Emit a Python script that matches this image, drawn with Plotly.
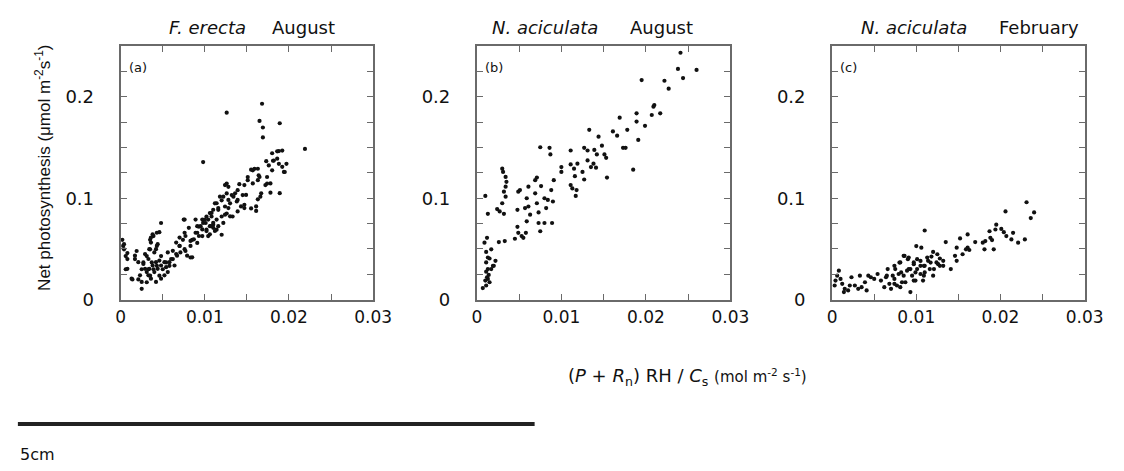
import plotly.graph_objs as go
from plotly.subplots import make_subplots

# (a) F. erecta, August
fe_aug_x = [0.0126, 0.0168, 0.0165, 0.0169, 0.0169, 0.0189, 0.0219, 0.0098, 0.0192, 0.0188,
            0.0186, 0.0181, 0.0188, 0.0192, 0.0197, 0.0194, 0.0180, 0.0174, 0.0172, 0.0178,
            0.0166, 0.0189, 0.0161, 0.0157, 0.0159, 0.0164, 0.0151, 0.0157, 0.0147, 0.0139,
            0.0145, 0.0139, 0.0132, 0.0128, 0.0124, 0.0130, 0.0143, 0.0155, 0.0120, 0.0112,
            0.0116, 0.0120, 0.0126, 0.0133, 0.0139, 0.0120, 0.0108, 0.0104, 0.0101, 0.0097,
            0.0093, 0.0089, 0.0102, 0.0110, 0.0114, 0.0104, 0.0097, 0.0091, 0.0083, 0.0085,
            0.0075, 0.0074, 0.0070, 0.0066, 0.0083, 0.0077, 0.0062, 0.0058, 0.0054, 0.0050,
            0.0048, 0.0046, 0.0043, 0.0039, 0.0035, 0.0031, 0.0025, 0.0021, 0.0014, 0.0017,
            0.0019, 0.0031, 0.0035, 0.0039, 0.0043, 0.0048, 0.0043, 0.0035, 0.0027, 0.0025,
            0.0033, 0.0037, 0.0002, 0.0004, 0.0006, 0.0008, 0.0006, 0.0003, 0.0008, 0.0118,
            0.0114, 0.0110, 0.0102, 0.0098, 0.0091, 0.0106, 0.0114, 0.0122, 0.0093, 0.0087,
            0.0076, 0.0046, 0.0038, 0.0036, 0.0034, 0.0040, 0.0033, 0.0029, 0.0021, 0.0017,
            0.0013, 0.0025, 0.0023, 0.0029, 0.0033, 0.0036, 0.0040, 0.0044, 0.0048, 0.0052,
            0.0056, 0.0060, 0.0064, 0.0052, 0.0048, 0.0042, 0.0056, 0.0062, 0.0067, 0.0071,
            0.0076, 0.0079, 0.0070, 0.0070, 0.0077, 0.0083, 0.0085, 0.0066, 0.0058, 0.0054,
            0.0046, 0.0042, 0.0038, 0.0034, 0.0031, 0.0027, 0.0042, 0.0044, 0.0036, 0.0004,
            0.0008, 0.0091, 0.0097, 0.0102, 0.0106, 0.0110, 0.0124, 0.0106, 0.0100, 0.0095,
            0.0126, 0.0089, 0.0081, 0.0076, 0.0180, 0.0186, 0.0173, 0.0182, 0.0195, 0.0176,
            0.0163, 0.0155, 0.0165, 0.0163, 0.0151, 0.0174, 0.0178, 0.0167, 0.0163, 0.0161,
            0.0147, 0.0141, 0.0149, 0.0136, 0.0126, 0.0134, 0.0138, 0.0128, 0.0122, 0.0116,
            0.0128, 0.0108, 0.0124, 0.0130, 0.0110, 0.0116, 0.0107, 0.0112, 0.0147]
fe_aug_y = [0.1844, 0.1932, 0.1763, 0.1698, 0.1600, 0.1740, 0.1487, 0.1357, 0.1470, 0.1465,
            0.1390, 0.1370, 0.1340, 0.1310, 0.1340, 0.1260, 0.1276, 0.1210, 0.1130, 0.1146,
            0.1016, 0.1050, 0.0920, 0.1276, 0.1290, 0.1227, 0.1210, 0.1146, 0.1130, 0.1080,
            0.1032, 0.0984, 0.1032, 0.1113, 0.1130, 0.0950, 0.0920, 0.0900, 0.0980, 0.0950,
            0.0886, 0.0820, 0.0850, 0.0820, 0.0870, 0.0640, 0.0820, 0.0790, 0.0756, 0.0790,
            0.0720, 0.0660, 0.0690, 0.0740, 0.0690, 0.0627, 0.0627, 0.0560, 0.0530, 0.0590,
            0.0790, 0.0590, 0.0530, 0.0450, 0.0416, 0.0480, 0.0400, 0.0334, 0.0367, 0.0300,
            0.0430, 0.0237, 0.0334, 0.0300, 0.0237, 0.0172, 0.0107, 0.0200, 0.0200, 0.0400,
            0.0480, 0.0430, 0.0590, 0.0627, 0.0660, 0.0756, 0.0530, 0.0497, 0.0367, 0.0300,
            0.0300, 0.0367, 0.0590, 0.0497, 0.0430, 0.0460, 0.0300, 0.0530, 0.0400, 0.1016,
            0.0951, 0.0887, 0.0820, 0.0757, 0.0725, 0.0725, 0.0790, 0.0757, 0.0628, 0.0595,
            0.0790, 0.0666, 0.0644, 0.0563, 0.0498, 0.0466, 0.0401, 0.0450, 0.0370, 0.0434,
            0.0207, 0.0175, 0.0240, 0.0304, 0.0240, 0.0207, 0.0272, 0.0304, 0.0337, 0.0370,
            0.0272, 0.0401, 0.0337, 0.0240, 0.0207, 0.0175, 0.0466, 0.0482, 0.0434, 0.0466,
            0.0498, 0.0434, 0.0530, 0.0612, 0.0628, 0.0579, 0.0418, 0.0563, 0.0370, 0.0320,
            0.0386, 0.0370, 0.0337, 0.0304, 0.0272, 0.0353, 0.0498, 0.0547, 0.0612, 0.0547,
            0.0304, 0.0660, 0.0693, 0.0676, 0.0644, 0.0709, 0.0919, 0.0854, 0.0790, 0.0725,
            0.1048, 0.0790, 0.0709, 0.0660, 0.1444, 0.1463, 0.1366, 0.1372, 0.1259, 0.1324,
            0.1291, 0.1282, 0.1210, 0.1178, 0.1178, 0.1145, 0.1055, 0.1049, 0.0990, 0.0875,
            0.0903, 0.1139, 0.1033, 0.1049, 0.1145, 0.1016, 0.0968, 0.0984, 0.1016, 0.0903,
            0.0903, 0.0855, 0.0838, 0.0822, 0.0758, 0.0725, 0.0725, 0.0677, 0.0936]

# (b) N. aciculata, August
na_aug_x = [0.0241, 0.0238, 0.0260, 0.0244, 0.0222, 0.0195, 0.0227, 0.0210, 0.0209, 0.0217,
            0.0207, 0.0189, 0.0169, 0.0189, 0.0199, 0.0178, 0.0161, 0.0166, 0.0133, 0.0144,
            0.0191, 0.0173, 0.0176, 0.0185, 0.0148, 0.0127, 0.0131, 0.0139, 0.0111, 0.0142,
            0.0151, 0.0153, 0.0131, 0.0138, 0.0135, 0.0141, 0.0154, 0.0111, 0.0119, 0.0115,
            0.0116, 0.0125, 0.0127, 0.0100, 0.0100, 0.0111, 0.0113, 0.0118, 0.0117, 0.0086,
            0.0075, 0.0087, 0.0071, 0.0069, 0.0061, 0.0076, 0.0091, 0.0088, 0.0059, 0.0049,
            0.0051, 0.0069, 0.0061, 0.0071, 0.0080, 0.0084, 0.0082, 0.0090, 0.0057, 0.0048,
            0.0063, 0.0073, 0.0059, 0.0073, 0.0075, 0.0080, 0.0089, 0.0048, 0.0049, 0.0053,
            0.0055, 0.0058, 0.0045, 0.0030, 0.0031, 0.0034, 0.0035, 0.0034, 0.0032, 0.0034,
            0.0030, 0.0032, 0.0024, 0.0027, 0.0010, 0.0013, 0.0026, 0.0033, 0.0012, 0.0009,
            0.0017, 0.0011, 0.0013, 0.0015, 0.0022, 0.0011, 0.0019, 0.0013, 0.0011, 0.0014,
            0.0012, 0.0013, 0.0010, 0.0015, 0.0011, 0.0007, 0.0017, 0.0020]
na_aug_y = [0.2435, 0.2276, 0.2266, 0.2185, 0.2159, 0.2166, 0.2081, 0.1919, 0.1903, 0.1838,
            0.1821, 0.1838, 0.1795, 0.1756, 0.1714, 0.1675, 0.1659, 0.1617, 0.1675, 0.1607,
            0.1575, 0.1497, 0.1497, 0.1282, 0.1519, 0.1497, 0.1471, 0.1477, 0.1471, 0.1432,
            0.1432, 0.1399, 0.1373, 0.1341, 0.1308, 0.1302, 0.1204, 0.1334, 0.1341, 0.1292,
            0.1218, 0.1260, 0.1185, 0.1308, 0.1260, 0.1130, 0.1097, 0.1081, 0.1023, 0.1497,
            0.1503, 0.1432, 0.1204, 0.1178, 0.1114, 0.1120, 0.1178, 0.1081, 0.1000, 0.1065,
            0.1081, 0.1049, 0.0919, 0.0951, 0.1000, 0.0984, 0.0903, 0.0968, 0.0903, 0.0886,
            0.0838, 0.0860, 0.0773, 0.0756, 0.0675, 0.0756, 0.0756, 0.0718, 0.0659, 0.0627,
            0.0610, 0.0659, 0.0601, 0.1292, 0.1260, 0.1211, 0.1162, 0.1114, 0.1065, 0.1016,
            0.0951, 0.0847, 0.0893, 0.0870, 0.1023, 0.0847, 0.0568, 0.0578, 0.0610, 0.0562,
            0.0497, 0.0471, 0.0416, 0.0406, 0.0383, 0.0367, 0.0334, 0.0302, 0.0276, 0.0244,
            0.0221, 0.0205, 0.0188, 0.0172, 0.0140, 0.0114, 0.0302, 0.0334]

# (c) N. aciculata, February
na_feb_x = [0.0231, 0.0240, 0.0236, 0.0206, 0.0195, 0.0194, 0.0201, 0.0204, 0.0207, 0.0215,
            0.0213, 0.0221, 0.0229, 0.0187, 0.0188, 0.0190, 0.0182, 0.0179, 0.0181, 0.0192,
            0.0170, 0.0161, 0.0152, 0.0161, 0.0163, 0.0159, 0.0155, 0.0146, 0.0148, 0.0141,
            0.0135, 0.0148, 0.0110, 0.0100, 0.0106, 0.0120, 0.0125, 0.0118, 0.0128, 0.0132,
            0.0124, 0.0114, 0.0110, 0.0105, 0.0101, 0.0097, 0.0091, 0.0085, 0.0081, 0.0093,
            0.0089, 0.0099, 0.0105, 0.0110, 0.0116, 0.0120, 0.0128, 0.0132, 0.0097, 0.0108,
            0.0093, 0.0085, 0.0079, 0.0075, 0.0072, 0.0083, 0.0077, 0.0081, 0.0074, 0.0070,
            0.0066, 0.0064, 0.0058, 0.0062, 0.0054, 0.0050, 0.0046, 0.0043, 0.0039, 0.0035,
            0.0031, 0.0041, 0.0027, 0.0033, 0.0023, 0.0021, 0.0015, 0.0012, 0.0008, 0.0006,
            0.0004, 0.0010, 0.0003, 0.0014, 0.0019, 0.0074, 0.0080, 0.0086, 0.0090, 0.0082,
            0.0091, 0.0097, 0.0101, 0.0095, 0.0105, 0.0109, 0.0113, 0.0117, 0.0121, 0.0126,
            0.0074, 0.0068, 0.0065, 0.0087, 0.0099, 0.0109]
na_feb_y = [0.0961, 0.0860, 0.0805, 0.0870, 0.0740, 0.0692, 0.0698, 0.0666, 0.0627, 0.0659,
            0.0594, 0.0562, 0.0594, 0.0675, 0.0610, 0.0588, 0.0578, 0.0562, 0.0497, 0.0497,
            0.0568, 0.0643, 0.0604, 0.0513, 0.0490, 0.0497, 0.0448, 0.0432, 0.0383, 0.0302,
            0.0568, 0.0513, 0.0682, 0.0529, 0.0513, 0.0471, 0.0448, 0.0425, 0.0406, 0.0383,
            0.0367, 0.0383, 0.0334, 0.0334, 0.0399, 0.0367, 0.0416, 0.0432, 0.0367, 0.0302,
            0.0286, 0.0269, 0.0253, 0.0269, 0.0302, 0.0237, 0.0334, 0.0334, 0.0188, 0.0188,
            0.0075, 0.0237, 0.0253, 0.0302, 0.0237, 0.0172, 0.0140, 0.0123, 0.0156, 0.0107,
            0.0302, 0.0221, 0.0188, 0.0123, 0.0253, 0.0205, 0.0221, 0.0237, 0.0172, 0.0123,
            0.0107, 0.0091, 0.0140, 0.0237, 0.0221, 0.0140, 0.0107, 0.0156, 0.0286, 0.0237,
            0.0188, 0.0205, 0.0140, 0.0075, 0.0091, 0.0334, 0.0366, 0.0431, 0.0399, 0.0269,
            0.0302, 0.0350, 0.0302, 0.0237, 0.0382, 0.0334, 0.0415, 0.0366, 0.0302, 0.0350,
            0.0205, 0.0156, 0.0237, 0.0172, 0.0188, 0.0237]

panel_data = [(fe_aug_x, fe_aug_y), (na_aug_x, na_aug_y), (na_feb_x, na_feb_y)]
panel_tags = ["(a)", "(b)", "(c)"]
species = ["F. erecta", "N. aciculata", "N. aciculata"]
months = ["August", "August", "February"]

x_ticks = [0, 0.01, 0.02, 0.03]
x_ticktext = ["0", "0.01", "0.02", "0.03"]
y_ticks = [0, 0.1, 0.2]
y_ticktext = ["0", "0.1", "0.2"]

W, H = 1124, 471
FONT = "DejaVu Sans, Liberation Sans, Arial, sans-serif"
FRAME = "#6a6a6a"

# panel frames in pixels (left, right), shared top/bottom
x_px = [(110, 368), (474, 733), (837, 1095)]
top_px, bot_px = 39, 298
title_px = [(240, 263), (600, 628), (977, 1005)]

fig = make_subplots(rows=1, cols=3)

for i, (xs, ys) in enumerate(panel_data):
    fig.add_trace(
        go.Scatter(
            x=xs, y=ys,
            mode="markers",
            marker=dict(size=4.2, color="#111111", symbol="circle"),
            showlegend=False,
            hoverinfo="skip",
        ),
        row=1, col=i + 1,
    )

for i in range(3):
    xa = "xaxis" if i == 0 else "xaxis%d" % (i + 1)
    ya = "yaxis" if i == 0 else "yaxis%d" % (i + 1)
    fig.layout[xa].update(
        domain=[x_px[i][0] / W, x_px[i][1] / W],
        range=[0, 0.03],
        tickmode="array", tickvals=x_ticks, ticktext=x_ticktext,
        ticks="inside", ticklen=6, tickwidth=1, tickcolor=FRAME,
        minor=dict(ticks="inside", tickmode="linear", tick0=0, dtick=0.005,
                   ticklen=6, tickwidth=1, tickcolor=FRAME),
        showline=True, linecolor=FRAME, linewidth=2, mirror="ticks",
        showgrid=False, zeroline=False,
        tickfont=dict(family=FONT, size=17, color="#111"),
        ticklabelstandoff=1,
    )
    fig.layout[ya].update(
        domain=[1 - bot_px / H, 1 - top_px / H],
        range=[0, 0.25],
        tickmode="array", tickvals=y_ticks, ticktext=y_ticktext,
        ticks="inside", ticklen=6, tickwidth=1, tickcolor=FRAME,
        minor=dict(ticks="inside", tickmode="linear", tick0=0, dtick=0.025,
                   ticklen=6, tickwidth=1, tickcolor=FRAME),
        showline=True, linecolor=FRAME, linewidth=2, mirror="ticks",
        showgrid=False, zeroline=False,
        tickfont=dict(family=FONT, size=18, color="#111"),
        ticklabelstandoff=21,
    )

    # species + month above each panel
    fig.add_annotation(
        x=title_px[i][0] / W, y=1 - 20 / H, xref="paper", yref="paper",
        xanchor="right", yanchor="middle", showarrow=False,
        text="<i>%s</i>" % species[i],
        font=dict(family=FONT, size=18, color="#111"),
    )
    fig.add_annotation(
        x=title_px[i][1] / W, y=1 - 20 / H, xref="paper", yref="paper",
        xanchor="left", yanchor="middle", showarrow=False,
        text=months[i],
        font=dict(family=FONT, size=18, color="#111"),
    )
    # panel tag
    fig.add_annotation(
        x=(x_px[i][0] + 6) / W, y=1 - 61 / H, xref="paper", yref="paper",
        xanchor="left", yanchor="middle", showarrow=False,
        text=panel_tags[i],
        font=dict(family=FONT, size=13, color="#111"),
    )

# y axis title
fig.add_annotation(
    x=30 / W, y=1 - 163 / H, xref="paper", yref="paper",
    xanchor="center", yanchor="middle", showarrow=False, textangle=-90,
    text="Net photosynthesis (\u03bcmol m<sup>-2</sup>s<sup>-1</sup>)",
    font=dict(family="Liberation Sans, Arial, sans-serif", size=17, color="#111"),
)

# x axis title
fig.add_annotation(
    x=689 / W, y=1 - 377 / H, xref="paper", yref="paper",
    xanchor="center", yanchor="middle", showarrow=False,
    text="(<i>P</i> + <i>R</i><sub>n</sub>) RH / <i>C</i><sub>s</sub> "
         "<span style='font-size:15px'>(mol m<sup>-2</sup> s<sup>-1</sup>)</span>",
    font=dict(family=FONT, size=18, color="#111"),
)

# 5 cm scale bar
fig.add_shape(
    type="line", xref="paper", yref="paper",
    x0=5 / W, x1=533 / W, y0=1 - 425 / H, y1=1 - 425 / H,
    line=dict(color="#222", width=4),
)
fig.add_annotation(
    x=5 / W, y=1 - 456 / H, xref="paper", yref="paper",
    xanchor="left", yanchor="middle", showarrow=False,
    text="5cm", font=dict(family=FONT, size=16, color="#111"),
)

fig.update_layout(
    width=W, height=H,
    margin=dict(l=0, r=0, t=0, b=0),
    paper_bgcolor="white", plot_bgcolor="white",
    showlegend=False,
)

fig.write_html("out.html")
